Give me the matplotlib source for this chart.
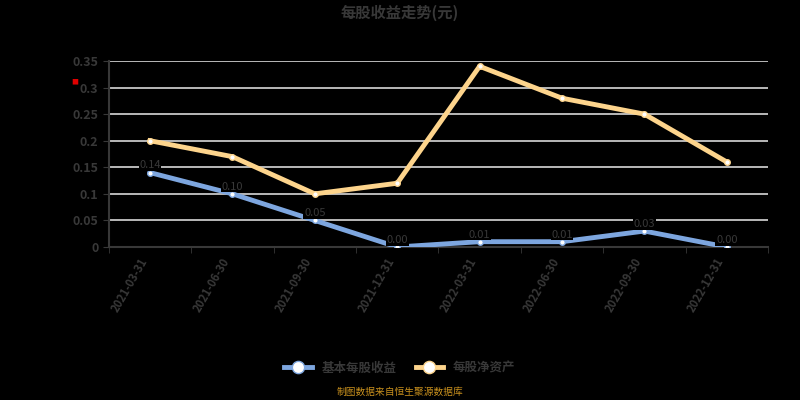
import numpy as np
import matplotlib
matplotlib.use('Agg')
import matplotlib.pyplot as plt

plt.rcParams['font.family'] = ['Noto Sans CJK SC', 'DejaVu Sans']

dates = ['2021-03-31', '2021-06-30', '2021-09-30', '2021-12-31',
         '2022-03-31', '2022-06-30', '2022-09-30', '2022-12-31']
series1_name = '基本每股收益'
series2_name = '每股净资产'
series1 = [0.14, 0.10, 0.05, 0.00, 0.01, 0.01, 0.03, 0.00]
series2 = [0.20, 0.17, 0.10, 0.12, 0.34, 0.28, 0.25, 0.16]
yticks = [0, 0.05, 0.1, 0.15, 0.2, 0.25, 0.3, 0.35]
ytick_labels = ['0', '0.05', '0.1', '0.15', '0.2', '0.25', '0.3', '0.35']

txt = '#383838'
blue = '#7da6df'
orange = '#fdd48c'

fig = plt.figure(figsize=(8, 4), dpi=100, facecolor='black')
ax = fig.add_axes([0.136, 0.3825, 0.824, 0.465])
ax.set_facecolor('black')

x = np.arange(len(dates))
ax.plot(x, series1, color=blue, lw=3.5, marker='o', ms=4,
        mfc='white', mec=blue, mew=1, label=series1_name, zorder=3)
ax.plot(x, series2, color=orange, lw=3.5, marker='o', ms=4,
        mfc='white', mec=orange, mew=1, label=series2_name, zorder=3)
for xi, v in zip(x, series1):
    ax.text(xi, v + 0.004, f'{v:.2f}', color=txt, fontsize=8,
            ha='center', va='bottom', zorder=4,
            bbox=dict(facecolor='black', edgecolor='none', pad=0.5))

ax.set_xlim(-0.5, len(dates) - 0.5)
ax.set_ylim(0, 0.35)
ax.set_yticks(yticks)
ax.set_yticklabels(ytick_labels, color=txt, fontsize=9, fontweight='bold')
ax.set_xticks(x)
ax.set_xticklabels(dates, rotation=60, ha='right', color=txt, fontsize=8,
                   fontweight='bold')
ax.set_xticks(np.arange(len(dates) + 1) - 0.5, minor=True)
ax.tick_params(axis='x', which='major', length=0, pad=6)
ax.tick_params(axis='x', which='minor', length=4, color=txt)
ax.tick_params(axis='y', length=4, color=txt)
ax.grid(axis='y', color='#d8d8d8', lw=1.2)
for s in ['top', 'right']:
    ax.spines[s].set_visible(False)
ax.spines['left'].set_color(txt)
ax.spines['bottom'].set_color(txt)
ax.spines['left'].set_linewidth(1.5)
ax.spines['bottom'].set_linewidth(1.5)

fig.text(0.094, 0.795, '■', color='#e00000', fontsize=5, ha='center', va='center')
fig.text(0.5, 0.968, '每股收益走势(元)', color=txt, fontsize=11,
         fontweight='bold', ha='center', va='center')
leg = fig.legend(loc='center', bbox_to_anchor=(0.5, 0.08), ncol=2,
                 frameon=False, fontsize=9, handlelength=2.2,
                 columnspacing=1.5, markerscale=2.2)
for t in leg.get_texts():
    t.set_color(txt)
    t.set_fontweight('bold')
fig.text(0.5, 0.02, '制图数据来自恒生聚源数据库', color='#c8901e', fontsize=7,
         ha='center', va='center')

fig.savefig('out.png', dpi=100, facecolor='black')
